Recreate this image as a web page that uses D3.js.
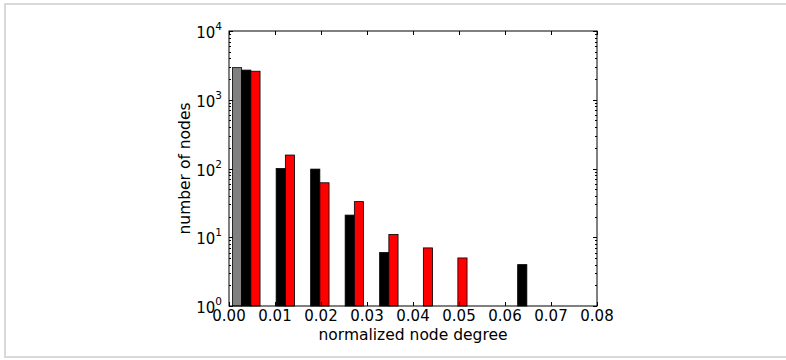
<!DOCTYPE html>
<html>
<head>
<meta charset="utf-8">
<script src="https://cdn.jsdelivr.net/npm/d3@7"></script>
<style>
  html, body { margin: 0; padding: 0; background: #fff; overflow: hidden; }
  #frame { position: absolute; left: 4px; top: 3px; width: 820px; height: 351px; border: 2px solid #d9d9d9; }
  svg { position: absolute; left: 0; top: 0; }
  text { font-family: "DejaVu Sans", sans-serif; fill: #000; }
</style>
</head>
<body>
<div id="frame"></div>
<svg id="chart" width="786" height="360"></svg>
<script>
// Histogram bin edges (normalized node degree)
const binEdges = [0.0, 0.0075, 0.015, 0.0225, 0.03, 0.0375, 0.045, 0.0525, 0.06, 0.0675];
// Counts per bin for each series
const grayCounts  = [2930, 0, 0, 0, 0, 0, 0, 0, 0];
const blackCounts = [2700, 100, 98, 21, 6, 0, 0, 0, 4];
const redCounts   = [2600, 157, 62, 33, 11, 7, 5, 0, 0];
const seriesNames = ["gray", "black", "red"];
const seriesColors = ["#808080", "#000000", "#ff0000"];
const xTicks = [0.00, 0.01, 0.02, 0.03, 0.04, 0.05, 0.06, 0.07, 0.08];
const yDecades = [0, 1, 2, 3, 4];

const series = [grayCounts, blackCounts, redCounts];

const pLeft = 229, pRight = 597, pTop = 31, pBottom = 306;
const x = d3.scaleLinear().domain([0, 0.08]).range([pLeft, pRight]);
const y = d3.scaleLog().domain([1, 1e4]).range([pBottom, pTop]);

const svg = d3.select("#chart");

// bars
const bins = binEdges.slice(0, -1).map((e, i) => ({ x0: e, x1: binEdges[i + 1], i }));
const nS = series.length;
series.forEach((vals, s) => {
  svg.append("g").selectAll("rect")
    .data(bins.filter(b => vals[b.i] > 0))
    .join("rect")
    .attr("x", b => { const w = x(b.x1) - x(b.x0); return x(b.x0) + w * 0.1 + s * w * 0.8 / nS; })
    .attr("width", b => (x(b.x1) - x(b.x0)) * 0.8 / nS)
    .attr("y", b => y(vals[b.i]))
    .attr("height", b => y(1) - y(vals[b.i]))
    .attr("fill", seriesColors[s])
    .attr("stroke", "#000")
    .attr("stroke-width", 0.8);
});

// frame
svg.append("rect").attr("x", pLeft).attr("y", pTop)
  .attr("width", pRight - pLeft).attr("height", pBottom - pTop)
  .attr("fill", "none").attr("stroke", "#000").attr("stroke-width", 1);

// x ticks (inside, bottom and top)
const tg = svg.append("g").attr("stroke", "#000").attr("stroke-width", 1);
xTicks.forEach(t => {
  const px = Math.round(x(t)) + 0.5;
  tg.append("line").attr("x1", px).attr("x2", px).attr("y1", pBottom).attr("y2", pBottom - 4);
  tg.append("line").attr("x1", px).attr("x2", px).attr("y1", pTop).attr("y2", pTop + 4);
});
svg.append("g").selectAll("text").data(xTicks).join("text")
  .attr("x", d => x(d)).attr("y", 321)
  .attr("text-anchor", "middle").style("font-size", "15px")
  .text(d => d3.format(".2f")(d));

// y ticks major/minor (inside, left and right)
yDecades.forEach(d => {
  const v = Math.pow(10, d);
  const py = Math.round(y(v)) + 0.5;
  tg.append("line").attr("x1", pLeft).attr("x2", pLeft + 4).attr("y1", py).attr("y2", py);
  tg.append("line").attr("x1", pRight).attr("x2", pRight - 4).attr("y1", py).attr("y2", py);
  if (d < 4) {
    for (let m = 2; m <= 9; m++) {
      const my = Math.round(y(m * v)) + 0.5;
      tg.append("line").attr("x1", pLeft).attr("x2", pLeft + 2).attr("y1", my).attr("y2", my);
      tg.append("line").attr("x1", pRight).attr("x2", pRight - 2).attr("y1", my).attr("y2", my);
    }
  }
});
const yl = svg.append("g").selectAll("text").data(yDecades).join("text")
  .attr("x", 222).attr("y", d => y(Math.pow(10, d)) + 7)
  .attr("text-anchor", "end").style("font-size", "15px");
yl.append("tspan").text("10");
yl.append("tspan").attr("dy", -8).style("font-size", "10.5px").text(d => d);

// axis labels
svg.append("text").attr("x", (pLeft + pRight) / 2).attr("y", 340)
  .attr("text-anchor", "middle").style("font-size", "15.5px")
  .text("normalized node degree");
svg.append("text")
  .attr("transform", `translate(190,${(pTop + pBottom) / 2}) rotate(-90)`)
  .attr("text-anchor", "middle").style("font-size", "15.5px")
  .text("number of nodes");
</script>
</body>
</html>
